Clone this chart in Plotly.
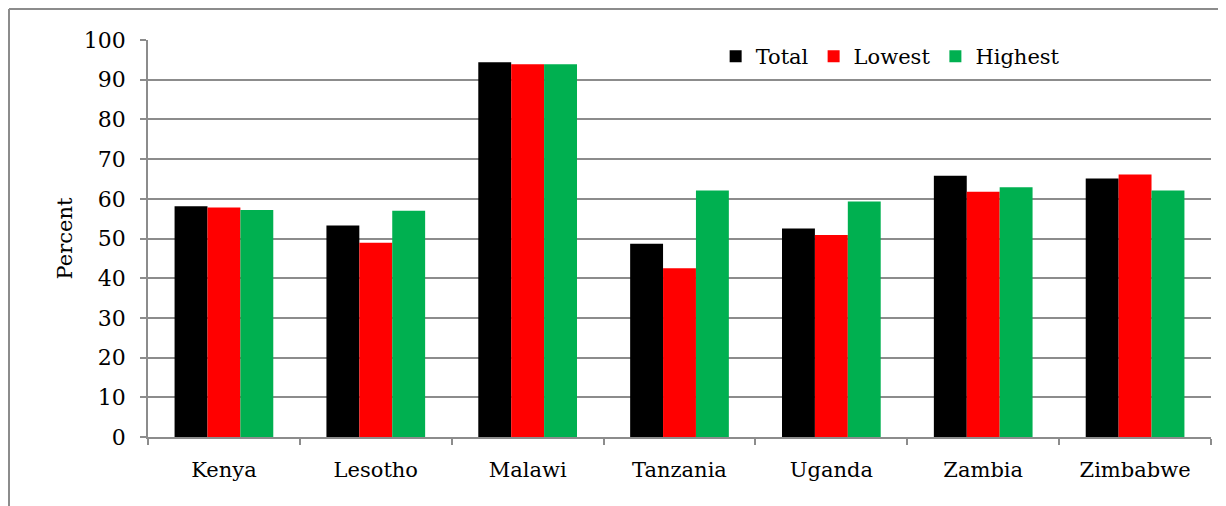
import plotly.graph_objects as go

countries = ["Kenya", "Lesotho", "Malawi", "Tanzania", "Uganda", "Zambia", "Zimbabwe"]
total = [58.1, 53.3, 94.4, 48.7, 52.5, 65.8, 65.1]
lowest = [57.8, 48.9, 93.9, 42.5, 50.9, 61.8, 66.1]
highest = [57.2, 57.0, 93.9, 62.1, 59.3, 62.9, 62.1]
y_ticks = [0, 10, 20, 30, 40, 50, 60, 70, 80, 90, 100]

FONT = "DejaVu Serif"
GRID = "#8c8c8c"

W, H = 1218, 498
L, R, T, B = 140, 15, 32, 69
PW, PH = W - L - R, H - T - B

fig = go.Figure()
for name, vals, col in [("Total", total, "#000000"),
                        ("Lowest", lowest, "#FF0000"),
                        ("Highest", highest, "#00B050")]:
    fig.add_trace(go.Bar(x=countries, y=vals, name=name, marker_color=col,
                         marker_line_width=0))

fig.update_layout(
    width=W, height=H,
    margin=dict(l=L, r=R, t=T, b=B, autoexpand=False),
    paper_bgcolor="white", plot_bgcolor="white",
    font=dict(family=FONT, size=21, color="black"),
    barmode="group", bargap=0.35, bargroupgap=0,
    showlegend=True,
    legend=dict(orientation="h", x=0.534, y=1.010, xanchor="left", yanchor="top",
                font=dict(family=FONT, size=21), bgcolor="rgba(0,0,0,0)",
                itemwidth=30, tracegroupgap=0),
)
fig.update_yaxes(range=[0, 100], tickvals=y_ticks, showgrid=True, gridcolor=GRID,
                 gridwidth=1.5, showline=True, linecolor=GRID, linewidth=1.5,
                 ticks="outside", ticklen=6, tickcolor=GRID, tickwidth=1.5,
                 tickfont=dict(family=FONT, size=22), zeroline=False, automargin=False,
                 ticklabelstandoff=10,
                 title=dict(text="Percent", font=dict(family=FONT, size=21), standoff=5))
fig.update_xaxes(showline=True, linecolor=GRID, linewidth=1.5, ticks="outside",
                 tickson="boundaries", ticklen=6, tickcolor=GRID, tickwidth=1.5,
                 tickfont=dict(family=FONT, size=21), ticklabelstandoff=13,
                 automargin=False)

# outer chart border (left and top)
bx = (1 - L) / PW
by = 1 + (T - 1) / PH
fig.add_shape(type="line", xref="paper", yref="paper", x0=bx, x1=bx,
              y0=by, y1=-B / PH - 0.02, line=dict(color=GRID, width=2))
fig.add_shape(type="line", xref="paper", yref="paper", x0=bx, x1=1 + (R + 5) / PW,
              y0=by, y1=by, line=dict(color=GRID, width=2))

fig.write_html("out.html")
